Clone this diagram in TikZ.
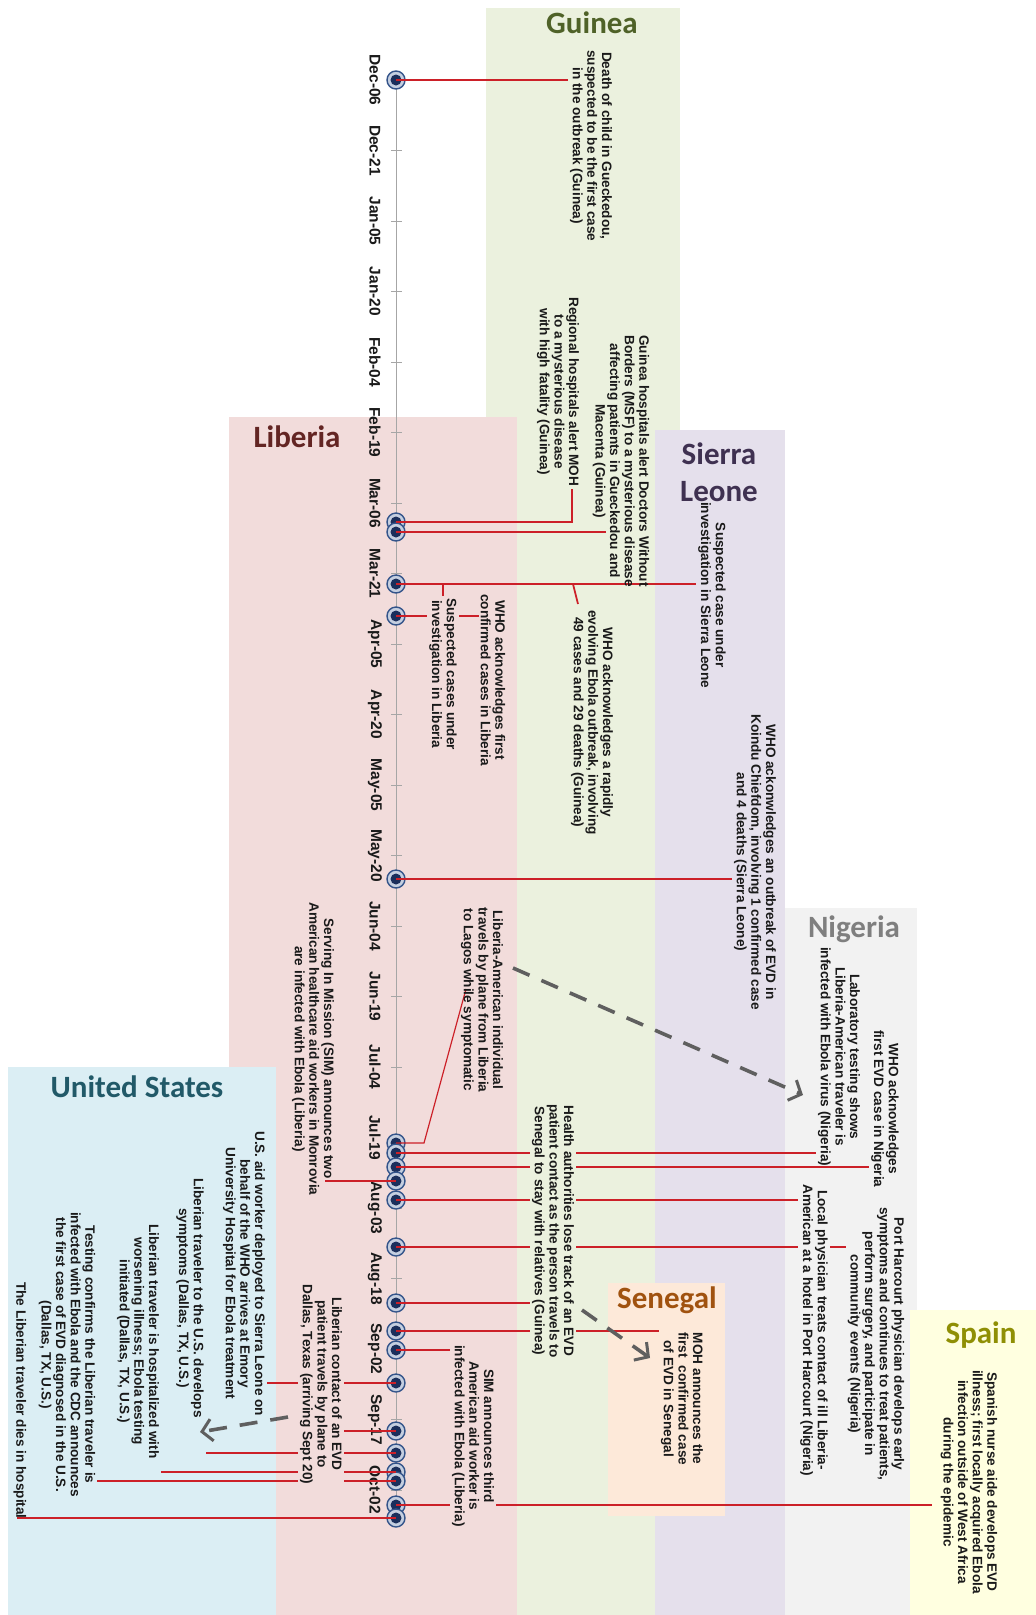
\documentclass[tikz,border=0pt]{standalone}
\usepackage{fontspec}
\setmainfont{Liberation Sans}[BoldFont={Liberation Sans Bold}]
\newfontfamily\evfam{Liberation Sans Bold}
\newfontfamily\ttlfam{Carlito}
\usetikzlibrary{arrows.meta}
\pgfdeclarelayer{bands}
\pgfdeclarelayer{marks}
\pgfdeclarelayer{links}
\pgfsetlayers{bands,marks,links,main}
\definecolor{guineaB}{HTML}{EBF1DE}\definecolor{guineaT}{HTML}{4F6228}
\definecolor{liberiaB}{HTML}{F2DCDB}\definecolor{liberiaT}{HTML}{632523}
\definecolor{sierraB}{HTML}{E5E0EC}\definecolor{sierraT}{HTML}{3F3151}
\definecolor{nigeriaB}{HTML}{F2F2F2}\definecolor{nigeriaT}{HTML}{7F7F7F}
\definecolor{usB}{HTML}{DBEEF4}\definecolor{usT}{HTML}{215968}
\definecolor{senegalB}{HTML}{FDE9D9}\definecolor{senegalT}{HTML}{A0520F}
\definecolor{spainB}{HTML}{FFFFE0}\definecolor{spainT}{HTML}{8F8F05}
\definecolor{redline}{HTML}{CC2028}
\definecolor{ringfill}{HTML}{C5CFE0}\definecolor{ringdraw}{HTML}{34548A}
\definecolor{dotnavy}{HTML}{1B2F5C}
\definecolor{axisgray}{HTML}{A6A6A6}
\definecolor{arrgray}{HTML}{5F5F5F}
\definecolor{evtext}{HTML}{1A1A1A}
\begin{document}
\begin{tikzpicture}[x=1pt,y=-1pt,
  ttl/.style={font=\ttlfam\bfseries\fontsize{31}{37}\selectfont, inner sep=0pt, align=center},
  evt/.style={font=\evfam\fontsize{13.6}{14.6}\selectfont, align=center, rotate=-90, anchor=west, inner sep=2pt, text=evtext},
  datelbl/.style={font=\evfam\fontsize{15.5}{18}\selectfont, rotate=-90, inner sep=0pt, text=evtext},
  dot/.style={circle, minimum size=18pt, inner sep=0pt, fill=ringfill, draw=ringdraw, line width=1.4pt,
    path picture={\fill[dotnavy] (path picture bounding box.center) circle[radius=5.5pt];}},
  conn/.style={draw=redline, line width=1.8pt},
  axisline/.style={draw=axisgray, line width=1pt},
  tickline/.style={draw=axisgray, line width=0.8pt},
  arr/.style={draw=arrgray, line width=3.6pt, dash pattern=on 18pt off 13pt,
    -{Straight Barb[length=10pt, width=22pt, line width=3pt]}}
]
\useasboundingbox (0,0) rectangle (1036,1615);
\begin{pgfonlayer}{bands}
\fill[white] (0,0) rectangle (1036,1615);
\fill[guineaB] (486,8) rectangle (680,1615);
\fill[liberiaB] (229,417) rectangle (517,1615);
\fill[sierraB] (655,430) rectangle (785,1615);
\fill[nigeriaB] (785,908) rectangle (917,1615);
\fill[usB] (8,1067) rectangle (276,1615);
\fill[senegalB] (608,1283) rectangle (725,1516);
\fill[spainB] (910,1310) rectangle (1036,1615);
\end{pgfonlayer}

% titles
\node[ttl, text=guineaT] (tg) at (592,23) {Guinea};
\node[ttl, text=liberiaT] (tl) at (297,437) {Liberia};
\node[ttl, text=sierraT] (ts) at (719,472) {Sierra\\Leone};
\node[ttl, text=nigeriaT] (tn) at (854,929) {Nigeria};
\node[ttl, text=usT] (tu) at (137,1087) {United States};
\node[ttl, text=senegalT] (tsn) at (667,1300) {Senegal};
\node[ttl, text=spainT] (tsp) at (981,1335) {Spain};

% axis, ticks, dates, dots
\begin{pgfonlayer}{marks}
\coordinate (ax0) at (396,80);
\coordinate (ax1) at (396,1520);
\draw[axisline] (ax0) -- (ax1);
\foreach \lab [count=\i from 0] in {Dec-06,Dec-21,Jan-05,Jan-20,Feb-04,Feb-19,Mar-06,Mar-21,Apr-05,Apr-20,May-05,May-20,Jun-04,Jun-19,Jul-04,Jul-19,Aug-03,Aug-18,Sep-02,Sep-17,Oct-02}{
  \pgfmathsetmacro\yy{80+70.5*\i}
  \draw[tickline] (391,\yy) -- (402,\yy);
  \node[datelbl] (l\i) at (375,\yy) {\lab};
}
\node[dot] (d1) at (396,80) {};
\node[dot] (d2) at (396,522) {};
\node[dot] (d3) at (396,532) {};
\node[dot] (d4) at (396,584) {};
\node[dot] (d5) at (396,616) {};
\node[dot] (d6) at (396,879) {};
\node[dot] (d7) at (396,1143) {};
\node[dot] (d8) at (396,1153) {};
\node[dot] (d9) at (396,1167) {};
\node[dot] (d10) at (396,1181) {};
\node[dot] (d11) at (396,1200) {};
\node[dot] (d12) at (396,1247) {};
\node[dot] (d13) at (396,1303) {};
\node[dot] (d14) at (396,1331) {};
\node[dot] (d15) at (396,1350) {};
\node[dot] (d16) at (396,1383) {};
\node[dot] (d17) at (396,1431) {};
\node[dot] (d18) at (396,1453) {};
\node[dot] (d19) at (396,1472) {};
\node[dot] (d20) at (396,1481) {};
\node[dot] (d21) at (396,1505) {};
\node[dot] (d22) at (396,1518) {};
\end{pgfonlayer}

% event texts
\node[evt] (t1) at (591,48) {Death of child in Gueckedou,\\suspected to be the first case\\in the outbreak (Guinea)};
\node[evt] (t2) at (621,333) {Guinea hospitals alert Doctors Without\\Borders (MSF) to a mysterious disease\\affecting patients in Gueckedou and\\Macenta (Guinea)};
\node[evt] (t3) at (558,295) {Regional hospitals alert MOH\\to a mysterious disease\\with high fatality (Guinea)};
\node[evt] (t4) at (592,608) {WHO acknowledges a rapidly\\evolving Ebola outbreak, involving\\49 cases and 29 deaths (Guinea)};
\node[evt] (t5) at (712,500) {Suspected case under\\investigation in Sierra Leone};
\node[evt] (t6) at (493,592) {WHO acknowledges first\\confirmed cases in Liberia};
\node[evt, fill=liberiaB] (t7) at (443,596) {Suspected cases under\\investigation in Liberia};
\node[evt] (t8) at (755,712) {WHO ackonwledges an outbreak of EVD in\\Koindu Chiefdom, involving 1 confirmed case\\and 4 deaths (Sierra Leone)};
\node[evt] (t9) at (482,905) {Liberia-American individual\\travels by plane from Liberia\\to Lagos while symptomatic};
\node[evt] (t10) at (313,900) {Serving In Mission (SIM) announces two\\American healthcare aid workers in Monrovia\\are infected with Ebola (Liberia)};
\node[evt] (t11) at (244,1129) {U.S. aid worker deployed to Sierra Leone on\\behalf of the WHO arrives at Emory\\University Hospital for Ebola treatment};
\node[evt, fill=liberiaB] (t12) at (321,1282) {Liberian contact of an EVD\\patient travels by plane to\\Dallas, Texas (arriving Sept 20)};
\node[evt] (t13) at (190,1176) {Liberian traveler to the U.S. develops\\symptoms (Dallas, TX, U.S.)};
\node[evt] (t14) at (138,1222) {Liberian traveler is hospitalized with\\worsening illness; Ebola testing\\initiated (Dallas, TX, U.S.)};
\node[evt] (t15) at (67,1210) {Testing confirms the Liberian traveler is\\infected with Ebola and the CDC announces\\the first case of EVD diagnosed in the U.S.\\(Dallas, TX, U.S.)};
\node[evt] (t16) at (20,1280) {The Liberian traveler dies in hospital};
\node[evt] (t17) at (839,945) {Laboratory testing shows\\Liberia-American traveler is\\infected with Ebola virus (Nigeria)};
\node[evt] (t18) at (885,1028) {WHO acknowledges\\first EVD case in Nigeria};
\node[evt] (t19) at (876,1205) {Port Harcourt physician develops early\\symptoms and continues to treat patients,\\perform surgery, and participate in\\community events (Nigeria)};
\node[evt, fill=nigeriaB] (t20) at (814,1182) {Local physician treats contact of ill Liberia-\\American at a hotel in Port Harcourt (Nigeria)};
\node[evt, fill=guineaB] (t21) at (553,1102) {Health authorities lose track of an EVD\\patient contact as the person travels to\\Senegal to stay with relatives (Guinea)};
\node[evt] (t22) at (682,1330) {MOH announces the\\first\ \ confirmed case\\of EVD in Senegal};
\node[evt, fill=liberiaB] (t23) at (473,1343) {SIM announces third\\American aid worker is\\infected with Ebola (Liberia)};
\node[evt] (t24) at (969,1368) {Spanish nurse aide develops EVD\\illness; first locally acquired Ebola\\infection outside of West Africa\\during the epidemic};

% connector helper points
\coordinate (k2) at (572,489);
\coordinate (e3) at (606,532);
\coordinate (b4a) at (573,584);
\coordinate (b4b) at (578,604);
\coordinate (b4c) at (443,584);
\coordinate (b4d) at (443,597);
\coordinate (k7a) at (424,1143);
\coordinate (k7b) at (466,989);
\coordinate (e10) at (325,1181);
\coordinate (e21) at (932,1505);
\coordinate (e22) at (17,1518);

\begin{pgfonlayer}{links}
\draw[conn] (d1.center) -- (d1.center -| t1.south);
\draw[conn] (d2.center) -| (k2);
\draw[conn] (d3.center) -- (e3);
\draw[conn] (d4.center) -- (d4.center -| t5.south);
\draw[conn] (b4a) -- (b4b);
\draw[conn] (b4c) -- (b4d);
\draw[conn] (d5.center) -- (d5.center -| t6.south);
\draw[conn] (d6.center) -- (d6.center -| t8.south);
\draw[conn, line width=1.2pt] (d7.center) -- (k7a) -- (k7b);
\draw[conn] (d8.center) -- (d8.center -| t17.south);
\draw[conn] (d9.center) -- (d9.center -| t18.south);
\draw[conn] (d10.center) -- (e10);
\draw[conn] (d11.center) -- (d11.center -| t20.south);
\draw[conn] (d12.center) -- (d12.center -| t19.south);
\draw[conn] (d13.center) -- (d13.center -| t21.south);
\draw[conn] (d14.center) -- (d14.center -| t22.south);
\draw[conn] (d15.center) -- (d15.center -| t23.south);
\draw[conn] (d16.center) -- (d16.center -| t11.north);
\draw[conn] (d17.center) -- (d17.center -| t12.north);
\draw[conn] (d18.center) -- (d18.center -| t13.north);
\draw[conn] (d19.center) -- (d19.center -| t14.north);
\draw[conn] (d20.center) -- (d20.center -| t15.north);
\draw[conn] (d21.center) -- (e21);
\draw[conn] (d22.center) -- (e22);
\end{pgfonlayer}

% dashed arrows
\coordinate (a1s) at (513,968);
\coordinate (a1e) at (803,1095);
\coordinate (a2s) at (582,1310);
\coordinate (a2e) at (650,1358);
\coordinate (a3s) at (288,1417);
\coordinate (a3e) at (200,1432);
\draw[arr] (a1s) -- (a1e);
\draw[arr] (a2s) -- (a2e);
\draw[arr] (a3s) -- (a3e);
\end{tikzpicture}
\end{document}
